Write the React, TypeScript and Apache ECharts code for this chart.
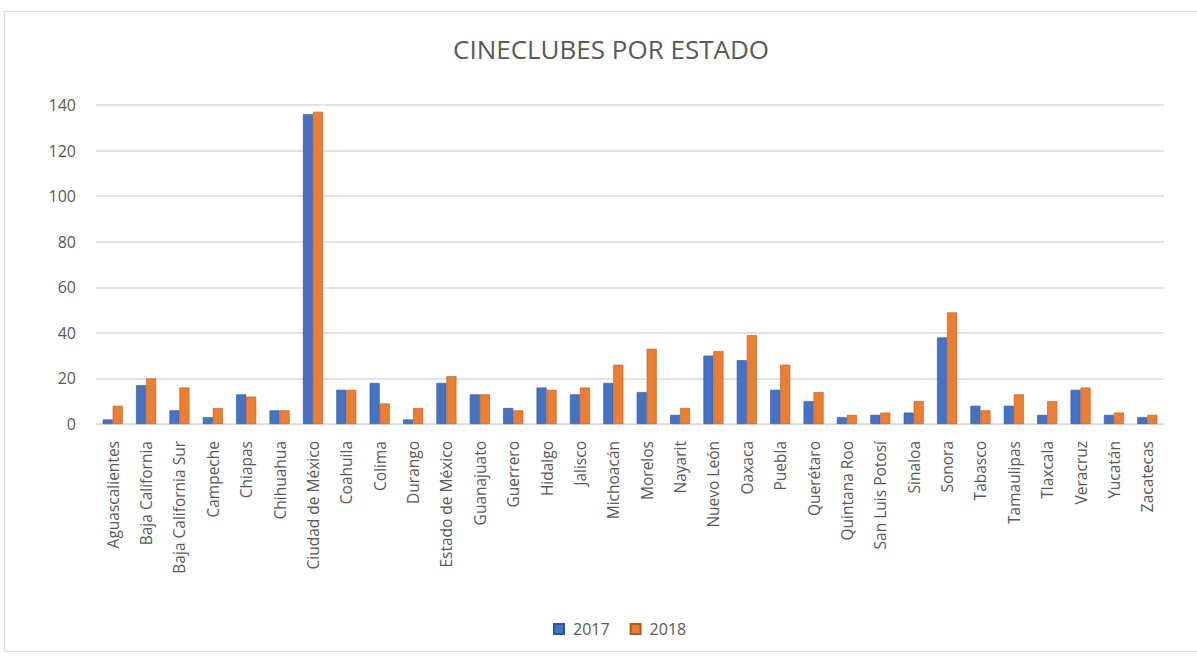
import React, { useEffect, useRef } from "react";
import * as echarts from "echarts";

const categories = [
  "Aguascalientes", "Baja California", "Baja California Sur", "Campeche", "Chiapas", "Chihuahua",
  "Ciudad de México", "Coahuila", "Colima", "Durango", "Estado de México", "Guanajuato", "Guerrero",
  "Hidalgo", "Jalisco", "Michoacán", "Morelos", "Nayarit", "Nuevo León", "Oaxaca", "Puebla",
  "Querétaro", "Quintana Roo", "San Luis Potosí", "Sinaloa", "Sonora", "Tabasco", "Tamaulipas",
  "Tlaxcala", "Veracruz", "Yucatán", "Zacatecas",
];
const values2017 = [2, 17, 6, 3, 13, 6, 136, 15, 18, 2, 18, 13, 7, 16, 13, 18, 14, 4, 30, 28, 15, 10, 3, 4, 5, 38, 8, 8, 4, 15, 4, 3];
const values2018 = [8, 20, 16, 7, 12, 6, 137, 15, 9, 7, 21, 13, 6, 15, 16, 26, 33, 7, 32, 39, 26, 14, 4, 5, 10, 49, 6, 13, 10, 16, 5, 4];
const seriesNames = ["2017", "2018"];
const yTicks = { min: 0, max: 140, interval: 20 };

const TEXT = "#595959";

export default function App() {
  const ref = useRef<HTMLDivElement>(null);
  useEffect(() => {
    const chart = echarts.init(ref.current!, null, { renderer: "svg" });
    chart.setOption({
      animation: false,
      backgroundColor: "#ffffff",
      title: {
        text: "CINECLUBES POR ESTADO",
        left: 448,
        top: 31,
        textStyle: { fontFamily: "Open Sans", fontSize: 26, fontWeight: "normal", color: TEXT },
      },
      graphic: [
        {
          type: "rect",
          shape: { x: 4.5, y: 11.5, width: 1200, height: 640 },
          style: { fill: "none", stroke: "#d9d9d9", lineWidth: 1 },
          silent: true,
        },
      ],
      legend: {
        bottom: 14,
        left: 548,
        itemWidth: 10,
        itemHeight: 10,
        itemGap: 20,
        icon: "rect",
        textStyle: { fontFamily: "Open Sans", fontSize: 16, color: TEXT, padding: [0, 0, 0, 4] },
        data: seriesNames,
      },
      grid: { left: 96, right: 33, top: 105, bottom: 232, containLabel: false },
      xAxis: {
        type: "category",
        data: categories,
        axisLine: { show: true, lineStyle: { color: "#d9d9d9" } },
        axisTick: { show: false },
        axisLabel: {
          rotate: 90,
          interval: 0,
          margin: 17,
          fontFamily: "Open Sans",
          fontSize: 15.5,
          color: TEXT,
        },
      },
      yAxis: {
        type: "value",
        min: yTicks.min,
        max: yTicks.max,
        interval: yTicks.interval,
        axisLine: { show: false },
        axisTick: { show: false },
        splitLine: { lineStyle: { color: "#d9d9d9", width: 1.5 } },
        axisLabel: { margin: 20, fontFamily: "Open Sans", fontSize: 16, color: TEXT },
      },
      series: [
        {
          name: seriesNames[0],
          type: "bar",
          data: values2017,
          barWidth: 10,
          barGap: "0%",
          itemStyle: { color: "#4472C4", borderColor: "#2F5597", borderWidth: 0.6 },
        },
        {
          name: seriesNames[1],
          type: "bar",
          data: values2018,
          barWidth: 10,
          itemStyle: { color: "#ED7D31", borderColor: "#B55A1E", borderWidth: 0.6 },
        },
      ],
    });
    return () => chart.dispose();
  }, []);
  return (
    <div
      ref={ref}
      style={{ position: "fixed", left: 0, top: 0, width: 1197, height: 656 }}
    />
  );
}
